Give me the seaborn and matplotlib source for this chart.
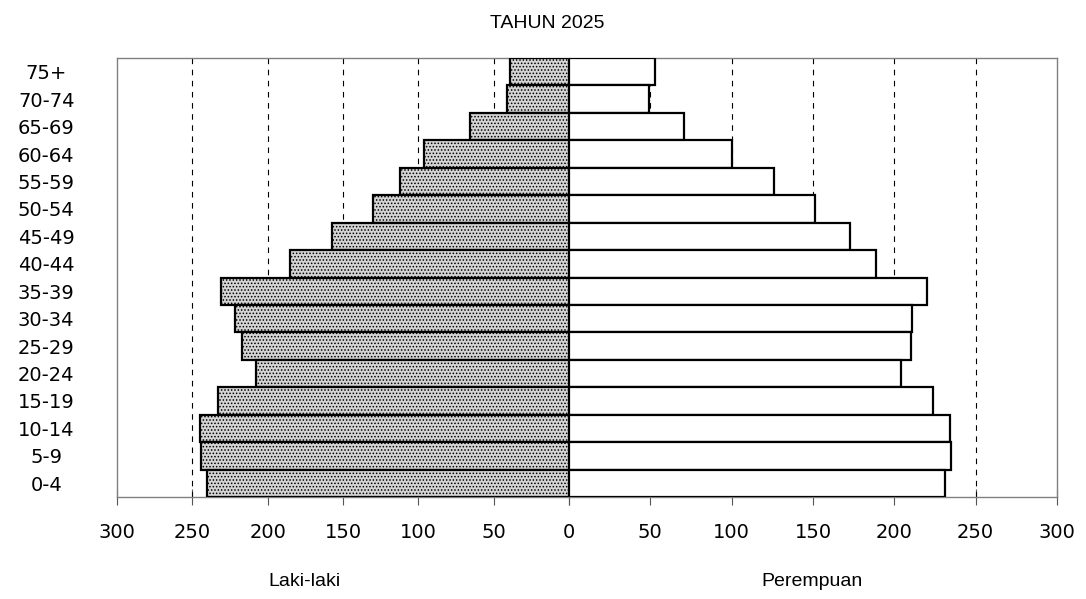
import numpy as np
import pandas as pd
import matplotlib
matplotlib.use('Agg')
import matplotlib.pyplot as plt
import seaborn as sns

# age groups, top to bottom
ages = ['75+', '70-74', '65-69', '60-64', '55-59', '50-54', '45-49', '40-44',
        '35-39', '30-34', '25-29', '20-24', '15-19', '10-14', '5-9', '0-4']
laki = [39, 41, 66, 96, 112, 130, 157, 185, 231, 222, 217, 208, 233, 245, 244, 240]
perempuan = [53, 49, 71, 100, 126, 151, 173, 189, 220, 211, 210, 204, 224, 234, 235, 231]
xticks = [0, 50, 100, 150, 200, 250, 300]
grid_vals = [50, 100, 150, 200, 250]

df = pd.DataFrame({'umur': ages, 'laki': laki, 'perempuan': perempuan})

sns.set_theme(style='white')
plt.rcParams['font.family'] = ['DejaVu Sans']
plt.rcParams['text.color'] = 'black'
plt.rcParams['xtick.color'] = 'black'
plt.rcParams['ytick.color'] = 'black'
plt.rcParams['hatch.linewidth'] = 0.7
plt.rcParams['hatch.color'] = 'black'

W, H = 1086, 599
fig = plt.figure(figsize=(W / 100, H / 100), dpi=100)
top, bot = 58, 497
axL = fig.add_axes([117 / W, (H - bot) / H, (569 - 117) / W, (bot - top) / H])
axR = fig.add_axes([569 / W, (H - bot) / H, (1057 - 569) / W, (bot - top) / H])

sns.barplot(data=df, x='laki', y='umur', ax=axL, orient='h', width=1.0,
            color='#d4d4d4', saturation=1, edgecolor='black', linewidth=1.6,
            hatch='.....', zorder=3)
sns.barplot(data=df, x='perempuan', y='umur', ax=axR, orient='h', width=1.0,
            color='white', saturation=1, edgecolor='black', linewidth=1.6,
            zorder=3)

for ax in (axL, axR):
    ax.set_ylim(len(ages) - 0.5, -0.5)
    ax.set_xticks(xticks)
    for g in grid_vals:
        ax.axvline(g, color='black', lw=0.8, ls=(0, (5, 5)), zorder=1)
    ax.set_xlabel('')
    ax.set_ylabel('')
    for s in ax.spines.values():
        s.set_color('#808080')
        s.set_linewidth(1.0)
    ax.tick_params(axis='x', direction='inout', length=11, width=0.8,
                   color='#555555', labelcolor='black', pad=13, bottom=True)
    ax.tick_params(axis='y', length=0)

axL.set_xlim(300, 0)
axR.set_xlim(0, 300)
axL.set_xticklabels([str(v) for v in xticks], fontsize=14)
axR.set_xticklabels([''] + [str(v) for v in xticks[1:]], fontsize=14)
axR.set_yticklabels([])
axL.spines['right'].set_visible(False)
axR.spines['left'].set_visible(False)

axL.set_yticks(range(len(ages)))
axL.set_yticklabels(ages, fontsize=14, ha='center')
axL.tick_params(axis='y', pad=51)

fig.text(547 / W, 1 - 24 / H, 'TAHUN 2025', ha='center', va='center',
         fontsize=14, family=['Liberation Sans'])
fig.text(305 / W, 1 - 582 / H, 'Laki-laki', ha='center', va='center',
         fontsize=14, family=['Liberation Sans'])
fig.text(812 / W, 1 - 582 / H, 'Perempuan', ha='center', va='center',
         fontsize=14, family=['Liberation Sans'])

fig.savefig('out.png', dpi=100, facecolor='white')
